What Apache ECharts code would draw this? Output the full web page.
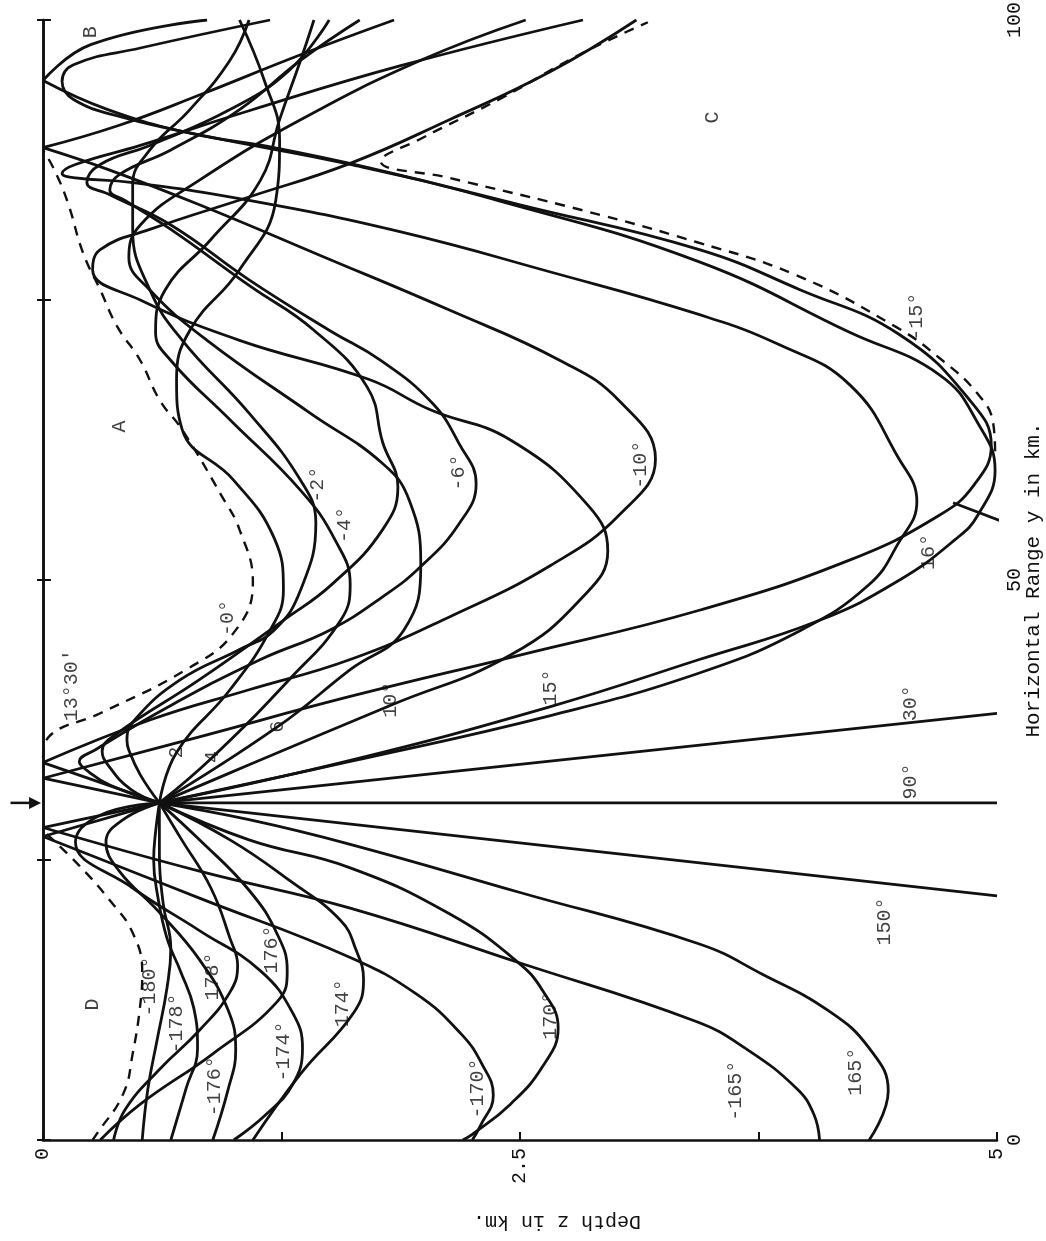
<!DOCTYPE html>
<html>
<head>
<meta charset="utf-8">
<script src="https://cdn.jsdelivr.net/npm/echarts/dist/echarts.min.js"></script>
<style>
    html, body { margin: 0; padding: 0; background: #fff; }
    #rays { width: 1046px; height: 1241px; }
</style>
</head>
<body>
<div id="rays"></div>
<script>
// every point is [depth z in km, horizontal range y in km]
const source = [0.61, 30.1];

const depthTicks = [0, 2.5, 5];
const rangeTicks = [0, 50, 100];

// rays leaving the source towards larger range
const ray90 = [source, [5.0, 30.1]];
const ray30 = [source, [5.0, 38.1]];
const ray2 = [source, [0.70, 34.6], [0.98, 40.2], [1.19, 45.5], [1.26, 49.1], [1.21, 53.8], [1.00, 58.9], [0.73, 63.4], [0.70, 67.9], [0.77, 72.3], [1.03, 77.7], [1.22, 83.9], [1.24, 89.3], [1.16, 94.6], [1.03, 100]];
const ray4 = [source, [0.89, 34.2], [1.29, 41.1], [1.56, 46.4], [1.61, 49.6], [1.53, 53.6], [1.35, 58.0], [0.98, 64.3], [0.67, 69.6], [0.59, 72.1], [0.64, 75.9], [0.88, 80.4], [1.14, 85.7], [1.24, 91.1], [1.35, 96.4], [1.42, 100]];
const ray6 = [source, [1.23, 36.9], [1.61, 42.0], [1.89, 45.5], [1.98, 51.5], [1.92, 57.1], [1.78, 60.4], [1.40, 64.9], [0.86, 71.4], [0.56, 75.9], [0.45, 78.8], [0.51, 81.7], [0.82, 85.7], [1.35, 91.1], [1.98, 96.4], [2.53, 100]];
const ray10 = [source, [1.08, 33.5], [1.82, 38.8], [2.45, 43.3], [2.83, 48.5], [2.96, 52.6], [2.86, 56.6], [2.45, 62.5], [2.03, 65.2], [1.71, 67.9], [1.03, 71.4], [0.51, 75.0], [0.26, 77.7], [0.30, 79.5], [0.56, 81.3], [1.08, 84.2], [1.61, 87.2], [2.13, 91.1], [2.66, 95.4], [3.11, 100]];
const ray15 = [source, [1.61, 33.8], [2.66, 37.9], [3.44, 41.7], [3.97, 45.5], [4.33, 49.6], [4.48, 53.2], [4.58, 57.0], [4.48, 61.0], [4.23, 67.4], [3.86, 71.0], [3.42, 73.8], [2.66, 77.5], [1.87, 81.1], [1.08, 83.9], [0.46, 85.5], [0.17, 85.9], [0.10, 86.3], [0.17, 87.1], [0.51, 88.8], [1.08, 91.9], [1.87, 95.9], [2.83, 100]];
const ray16 = [source, [1.61, 33.9], [2.66, 38.7], [3.44, 42.9], [4.07, 46.4], [4.49, 50.0], [4.78, 53.6], [4.90, 55.8], [4.99, 59.8], [4.90, 64.0], [4.70, 68.3], [4.23, 72.1], [3.44, 78.4], [2.40, 83.8], [1.61, 87.1], [0.86, 89.6], [0.42, 91.3], [0.16, 92.9], [0.10, 94.5], [0.16, 96.0], [0.51, 97.5], [1.19, 100]];
const rayM2 = [source, [0.51, 32.6], [0.45, 34.8], [0.44, 35.7], [0.48, 37.5], [0.72, 41.1], [1.03, 43.8], [1.21, 45.5], [1.35, 49.1], [1.43, 55.1], [1.35, 58.9], [1.08, 64.9], [0.73, 71.4], [0.56, 75.9], [0.47, 81.3], [0.47, 85.3], [0.56, 88.4], [0.77, 92.0], [0.98, 96.4], [1.08, 100]];
const rayM4 = [source, [0.46, 31.3], [0.34, 33.5], [0.31, 34.7], [0.38, 36.2], [0.82, 41.1], [1.26, 46.4], [1.52, 49.7], [1.78, 54.5], [1.86, 58.3], [1.78, 62.3], [1.70, 67.2], [1.42, 72.3], [1.08, 76.3], [0.67, 81.3], [0.43, 83.9], [0.35, 84.8], [0.40, 86.2], [0.67, 88.4], [1.03, 92.0], [1.35, 96.4], [1.66, 100]];
const rayM6 = [source, [0.35, 31.7], [0.23, 33.0], [0.19, 33.8], [0.27, 34.8], [0.67, 38.8], [1.14, 42.9], [1.50, 45.5], [1.78, 48.5], [1.98, 51.2], [2.18, 55.0], [2.27, 58.6], [2.18, 62.2], [2.04, 65.8], [1.77, 69.6], [1.50, 72.3], [1.08, 76.8], [0.67, 81.7], [0.35, 84.4], [0.23, 85.5], [0.30, 87.1], [0.56, 88.8], [0.98, 92.0], [1.29, 95.5], [1.50, 100]];
const rayM10 = [source, [0, 33.7], [0.56, 37.5], [1.08, 40.2], [1.61, 42.9], [2.13, 46.7], [2.66, 51.3], [3.02, 55.8], [3.21, 60.8], [3.02, 66.0], [2.71, 69.6], [2.13, 74.1], [1.45, 79.0], [0.82, 83.5], [0.35, 86.6], [0, 88.6], [0.40, 90.6], [0.82, 93.3], [1.35, 96.9], [1.84, 100]];
const rayM15 = [source, [0, 32.3], [0.82, 36.0], [1.61, 39.6], [2.50, 43.3], [3.44, 47.3], [4.23, 51.8], [4.70, 55.8], [4.88, 58.5], [4.97, 62.0], [4.86, 66.0], [4.49, 71.9], [3.97, 75.9], [3.44, 79.5], [2.50, 83.5], [1.71, 86.8], [1.21, 88.6], [0.77, 89.9], [0.34, 92.0], [0, 94.6], [0.25, 97.8], [0.86, 100]];

// rays leaving the source towards smaller range
const ray150 = [source, [5.0, 21.8]];
const ray165 = [source, [1.08, 28.6], [1.61, 26.4], [2.50, 22.1], [3.44, 17.5], [3.77, 14.8], [4.12, 11.5], [4.33, 8.2], [4.43, 4.4], [4.33, 0]];
const ray170 = [source, [1.08, 26.8], [1.61, 24.3], [2.13, 20.2], [2.48, 16.0], [2.62, 13.3], [2.70, 10.0], [2.62, 6.6], [2.45, 3.2], [2.25, 0.5], [2.20, 0]];
const ray174 = [source, [0.98, 26.8], [1.29, 23.2], [1.56, 19.6], [1.64, 17.0], [1.68, 14.3], [1.63, 11.4], [1.35, 5.9], [1.10, 0]];
const ray176 = [source, [0.82, 26.8], [1.08, 22.3], [1.23, 18.3], [1.28, 15.1], [1.23, 12.4], [0.89, 7.7], [0.51, 3.2], [0.30, 0]];
const ray178 = [source, [0.72, 27.0], [0.88, 22.5], [0.98, 18.0], [1.02, 15.6], [0.98, 13.2], [0.82, 9.8], [0.61, 6.3], [0.43, 2.7], [0.37, 0]];
const ray180 = [source, [0.61, 25.5], [0.63, 21.1], [0.67, 17.1], [0.65, 13.6], [0.60, 9.1], [0.55, 4.6], [0.52, 0]];
const rayM165 = [source, [0, 27.9], [0.82, 24.0], [1.61, 20.7], [2.50, 15.8], [3.42, 10.6], [3.68, 8.2], [3.95, 4.6], [4.04, 2.3], [4.07, 0]];
const rayM170 = [source, [0, 27.1], [0.82, 21.6], [1.61, 16.3], [1.96, 13.0], [2.19, 9.5], [2.30, 6.8], [2.36, 4.0], [2.29, 1.2], [2.25, 0]];
const rayM174 = [source, [0.30, 29.0], [0.17, 26.6], [0.47, 22.5], [0.82, 18.7], [1.14, 15.1], [1.31, 11.3], [1.36, 8.2], [1.31, 5.0], [1.17, 2.3], [1.00, 0]];
const rayM176 = [source, [0.42, 28.6], [0.33, 26.6], [0.40, 24.0], [0.60, 20.5], [0.82, 16.1], [0.97, 11.6], [1.01, 8.0], [0.97, 4.5], [0.89, 0]];
const rayM178 = [source, [0.59, 27.5], [0.58, 25.0], [0.60, 21.9], [0.65, 18.0], [0.72, 15.1], [0.79, 11.8], [0.81, 8.2], [0.75, 4.6], [0.67, 0]];

// dashed limiting rays round the shadow zones A, C and D
const limitA = [[0, 34.1], [0.03, 36.0], [0.30, 38.1], [0.75, 42.0], [1.00, 45.3], [1.10, 49.8], [1.03, 54.5], [0.94, 57.4], [0.73, 63.4], [0.61, 66.1], [0.51, 69.6], [0.39, 72.6], [0.30, 75.9], [0.21, 79.2], [0.13, 83.7], [0.06, 86.6], [0, 88.4]];
const limitC = [[4.99, 61.5], [4.98, 64.0], [4.90, 66.6], [4.70, 69.8], [4.47, 72.6], [3.95, 77.2], [3.42, 80.2], [2.83, 83.0], [2.13, 85.9], [1.77, 87.4], [1.98, 89.4], [2.40, 93.0], [2.81, 96.9], [3.17, 99.8]];
const limitD = [[0.02, 27.3], [0.19, 24.5], [0.35, 21.4], [0.47, 18.5], [0.52, 15.0], [0.51, 12.1], [0.47, 7.7], [0.42, 4.1], [0.28, 0.5], [0.26, 0]];

const sourceArrow = [[-0.17, 30.1], [-0.01, 30.1]];
const pointer = [[4.77, 56.9], [5.17, 54.3]];

const rayLabels = [
    ['150°', 4.41, 19.5], ['165°', 4.26, 6.1], ['-165°', 3.63, 4.4],
    ['170°', 2.66, 11.1], ['-170°', 2.28, 4.6], ['174°', 1.57, 12.2],
    ['-174°', 1.26, 7.9], ['176°', 1.20, 17.0], ['-176°', 0.90, 4.8],
    ['178°', 0.89, 14.6], ['-178°', 0.70, 10.4], ['-180°', 0.56, 13.7],
    ['90°', 4.55, 32.0], ['30°', 4.55, 39.0], ['16°', 4.64, 52.5],
    ['-15°', 4.58, 73.5], ['15°', 2.66, 40.4], ['10°', 1.82, 39.3],
    ['6', 1.23, 36.9], ['4', 0.89, 34.2], ['2', 0.70, 34.6],
    ['-0°', 0.97, 46.6], ['13°30′', 0.15, 40.6], ['-2°', 1.44, 58.5],
    ['-4°', 1.58, 54.9], ['-6°', 2.18, 59.6], ['-10°', 3.13, 60.3]
];
const zoneLabels = [['A', 0.40, 63.7], ['B', 0.25, 98.9], ['C', 3.51, 91.3], ['D', 0.26, 12.1]];

const solidRays = [ray90, ray30, ray2, ray4, ray6, ray10, ray15, ray16, rayM2, rayM4, rayM6, rayM10, rayM15,
    ray150, ray165, ray170, ray174, ray176, ray178, ray180, rayM165, rayM170, rayM174, rayM176, rayM178];
const dashedRays = [limitA, limitC, limitD];

const mono = '"Liberation Mono", "DejaVu Sans Mono", monospace';

// a surface reflection is a sharp corner, so the spline is broken there
function pieces(ray) {
    let out = [];
    let cur = [];
    ray.forEach(function (p, i) {
        cur.push(p);
        if (p[0] === 0 && i > 0 && i < ray.length - 1) {
            out.push(cur);
            cur = [p];
        }
    });
    out.push(cur);
    return out;
}

function rayChart() {
    let chart = echarts.init(document.getElementById('rays'));

    let series = [];
    solidRays.forEach(function (ray) {
        pieces(ray).forEach(function (part) {
            series.push({
                type: 'line', data: part, smooth: 0.45, symbol: 'none', silent: true,
                lineStyle: {color: '#111', width: 2.8}
            });
        });
    });
    dashedRays.forEach(function (ray) {
        series.push({
            type: 'line', data: ray, smooth: 0.45, symbol: 'none', silent: true,
            lineStyle: {color: '#111', width: 2.4, type: [10, 8]}
        });
    });
    // short pointer near the deepest turning point
    series.push({
        type: 'line', data: pointer, symbol: 'none', silent: true, clip: false,
        lineStyle: {color: '#111', width: 2.8}
    });
    series.push({
        type: 'scatter', silent: true, symbolSize: 1,
        itemStyle: {color: 'rgba(0,0,0,0)'},
        data: rayLabels.concat(zoneLabels).map(function (l) {
            return {name: l[0], value: [l[1], l[2]]};
        }),
        label: {
            show: true, position: 'inside', formatter: '{b}', rotate: 90,
            fontFamily: mono, fontSize: 20, color: '#111'
        },
        z: 5
    });

    let option = {
        animation: false,
        backgroundColor: '#fff',
        grid: {left: 43, right: 49, top: 20, bottom: 101, containLabel: false, outerBoundsMode: 'none'},
        xAxis: {
            type: 'value', min: 0, max: 5, interval: 1.25, position: 'bottom',
            axisLine: {show: true, lineStyle: {color: '#111', width: 2.6}},
            axisTick: {show: true, inside: true, length: 8, lineStyle: {color: '#111', width: 2}},
            axisLabel: {
                rotate: 90, margin: 8, color: '#111', fontFamily: mono, fontSize: 20,
                showMinLabel: true, showMaxLabel: true,
                formatter: function (v) { return depthTicks.indexOf(v) >= 0 ? String(v) : ''; }
            },
            splitLine: {show: false}
        },
        yAxis: [
            {
                type: 'value', min: 0, max: 100, interval: 25, position: 'right',
                axisLine: {show: true, lineStyle: {color: '#111', width: 2.6}},
                axisTick: {show: true, inside: true, length: 6, lineStyle: {color: '#111', width: 2}},
                axisLabel: {
                    rotate: 90, margin: 8, color: '#111', fontFamily: mono, fontSize: 20,
                    showMinLabel: true, showMaxLabel: true,
                    formatter: function (v) { return rangeTicks.indexOf(v) >= 0 ? String(v) : ''; }
                },
                splitLine: {show: false}
            },
            {
                type: 'value', min: 0, max: 100, interval: 25, position: 'left',
                axisLine: {show: true, lineStyle: {color: '#111', width: 2.6}},
                axisTick: {show: true, inside: true, length: 8, lineStyle: {color: '#111', width: 2}},
                axisLabel: {show: false},
                splitLine: {show: false}
            }
        ],
        series: series
    };

    chart.setOption(option);

    // arrow outside the depth axis marking the range of the source
    let tail = chart.convertToPixel({xAxisIndex: 0, yAxisIndex: 0}, sourceArrow[0]);
    let tip = chart.convertToPixel({xAxisIndex: 0, yAxisIndex: 0}, sourceArrow[1]);

    chart.setOption({
        graphic: [
            {
                type: 'text', x: 557, y: 1221, rotation: Math.PI, silent: true,
                style: {
                    text: 'Depth z in km.', font: '20px ' + mono, fill: '#111',
                    textAlign: 'center', textVerticalAlign: 'middle'
                }
            },
            {
                type: 'text', x: 1033, y: 580, rotation: Math.PI / 2, silent: true,
                style: {
                    text: 'Horizontal Range y in km.', font: '21px ' + mono, fill: '#111',
                    textAlign: 'center', textVerticalAlign: 'middle'
                }
            },
            {
                type: 'line', silent: true,
                shape: {x1: tail[0], y1: tail[1], x2: tip[0] - 8, y2: tip[1]},
                style: {stroke: '#111', lineWidth: 2.5}
            },
            {
                type: 'polygon', silent: true,
                shape: {points: [[tip[0], tip[1]], [tip[0] - 12, tip[1] - 6], [tip[0] - 12, tip[1] + 6]]},
                style: {fill: '#111'}
            }
        ]
    });
}

rayChart();
</script>
</body>
</html>
